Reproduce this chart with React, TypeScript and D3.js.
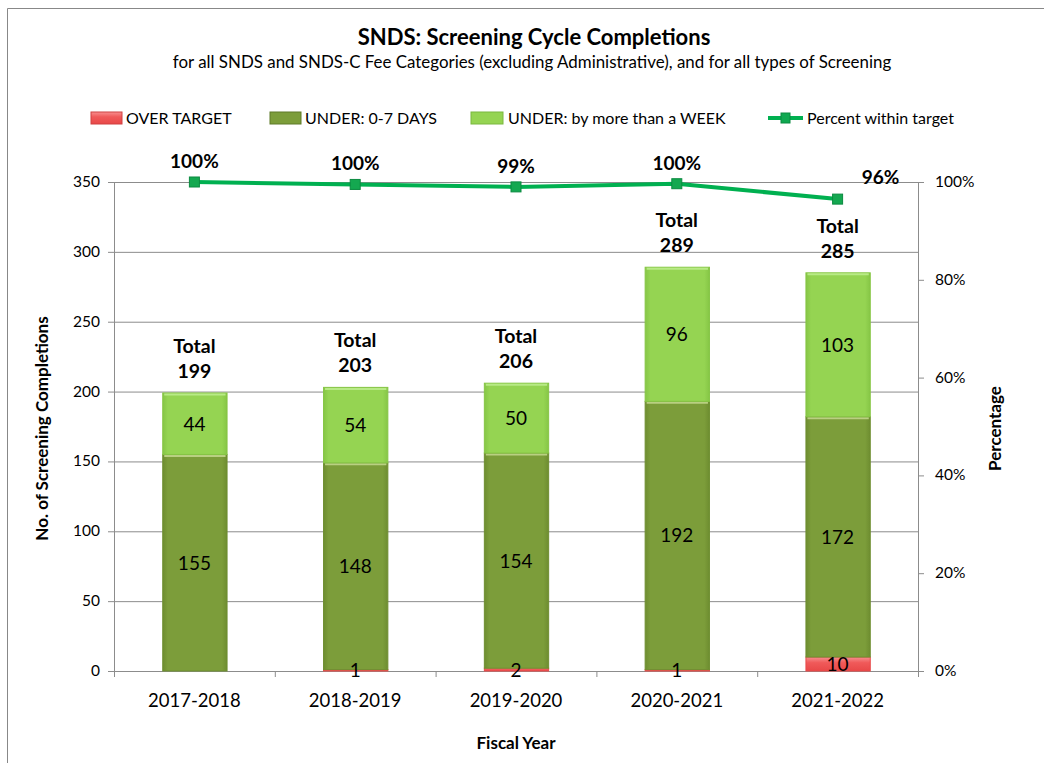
import { scaleBand, scaleLinear, line } from 'd3';

const years = ['2017-2018', '2018-2019', '2019-2020', '2020-2021', '2021-2022'];
const overTarget = [0, 1, 2, 1, 10];
const under07 = [155, 148, 154, 192, 172];
const underWeek = [44, 54, 50, 96, 103];
const totals = [199, 203, 206, 289, 285];
const pctWithin = [100, 99.5, 99.0, 99.65, 96.5];
const pctLabels = ['100%', '100%', '99%', '100%', '96%'];
const leftTicks = [0, 50, 100, 150, 200, 250, 300, 350];
const rightTicks = [0, 20, 40, 60, 80, 100];

const FONT = 'Lato, "Open Sans", sans-serif';

export default function App() {
  const width = 1044;
  const height = 763;
  const left = 114;
  const right = 918;
  const top = 182;
  const bottom = 671;

  const x = scaleBand().domain(years).range([left, right]).paddingInner(0.6).paddingOuter(0.3);
  const band = scaleBand().domain(years).range([left, right]);
  const y = scaleLinear().domain([0, 350]).range([bottom, top]);
  const yPct = scaleLinear().domain([0, 100]).range([bottom, top]);

  const cx = (d) => x(d) + x.bandwidth() / 2;
  const pctLine = line()
    .x((d, i) => cx(years[i]))
    .y((d) => yPct(d));

  const segments = years.map((yr, i) => [
    { key: 'over', v: overTarget[i], y0: 0 },
    { key: 'u07', v: under07[i], y0: overTarget[i] },
    { key: 'week', v: underWeek[i], y0: overTarget[i] + under07[i] },
  ]);

  const fills = { over: 'url(#gRed)', u07: 'url(#gDark)', week: 'url(#gLight)' };
  const strokes = { over: '#e84a4a', u07: '#6f8f31', week: '#86c545' };

  return (
    <svg width={width} height={height} style={{ display: 'block', position: 'absolute', left: 0, top: 0 }}>
      <defs>
        <linearGradient id="gDark" x1="0" x2="1" y1="0" y2="0">
          <stop offset="0" stopColor="#6e8d30" />
          <stop offset="0.08" stopColor="#7c9d3a" />
          <stop offset="0.92" stopColor="#7c9d3a" />
          <stop offset="1" stopColor="#6e8d30" />
        </linearGradient>
        <linearGradient id="gLight" x1="0" x2="1" y1="0" y2="0">
          <stop offset="0" stopColor="#86c646" />
          <stop offset="0.08" stopColor="#95d452" />
          <stop offset="0.92" stopColor="#95d452" />
          <stop offset="1" stopColor="#86c646" />
        </linearGradient>
        <linearGradient id="gRed" x1="0" x2="0" y1="0" y2="1">
          <stop offset="0" stopColor="#f79090" />
          <stop offset="0.4" stopColor="#f05a5a" />
          <stop offset="1" stopColor="#e84848" />
        </linearGradient>
      </defs>
      <rect x={0} y={0} width={width} height={height} fill="#fff" />
      <path d={`M7.5,${height} V8.5 H${width}`} fill="none" stroke="#888" strokeWidth={1} />

      <text x={534} y={45} textAnchor="middle" fontFamily={FONT} fontWeight="bold" fontSize={22}>
        SNDS: Screening Cycle Completions
      </text>
      <text x={532} y={68} textAnchor="middle" fontFamily={FONT} fontSize={16.9}>
        for all SNDS and SNDS-C Fee Categories (excluding Administrative), and for all types of Screening
      </text>

      {/* legend */}
      <g fontFamily={FONT} fontSize={16}>
        <rect x={91} y={112} width={31} height={12} fill="url(#gRed)" stroke="#d04040" />
        <text x={126} y={124}>OVER TARGET</text>
        <rect x={270} y={112} width={31} height={12} fill="#7c9d3a" stroke="#5e7a28" />
        <text x={305} y={124}>UNDER: 0-7 DAYS</text>
        <rect x={471} y={112} width={32} height={12} fill="#95d452" stroke="#7ab83e" />
        <text x={508} y={124}>UNDER: by more than a WEEK</text>
        <line x1={768} x2={803} y1={118} y2={118} stroke="#00b050" strokeWidth={4} />
        <rect x={781} y={113} width={9} height={10} fill="#0fa850" stroke="#0a8a40" />
        <text x={807} y={124}>Percent within target</text>
      </g>

      {/* gridlines */}
      {leftTicks.map((t) => (
        <line key={t} x1={left - 6} x2={right} y1={y(t) + 0.5} y2={y(t) + 0.5} stroke="#8c8c8c" strokeWidth={1} />
      ))}
      <line x1={left + 0.5} x2={left + 0.5} y1={top} y2={bottom} stroke="#8c8c8c" />
      <line x1={right + 0.5} x2={right + 0.5} y1={top} y2={bottom + 6} stroke="#8c8c8c" />
      {rightTicks.map((t) => (
        <line key={t} x1={right} x2={right + 6} y1={yPct(t) + 0.5} y2={yPct(t) + 0.5} stroke="#8c8c8c" />
      ))}
      {years.map((yr) => (
        <line key={yr} x1={band(yr) + 0.5} x2={band(yr) + 0.5} y1={bottom} y2={bottom + 6} stroke="#8c8c8c" />
      ))}

      {/* axis labels */}
      <g fontFamily={FONT} fontSize={15.5}>
        {leftTicks.map((t) => (
          <text key={t} x={left - 14} y={y(t) + 5} textAnchor="end">{t}</text>
        ))}
        {rightTicks.map((t) => (
          <text key={t} x={right + 17} y={yPct(t) + 5}>{t}%</text>
        ))}
      </g>
      <g fontFamily={FONT} fontSize={18.5}>
        {years.map((yr) => (
          <text key={yr} x={band(yr) + band.bandwidth() / 2} y={707} textAnchor="middle">{yr}</text>
        ))}
      </g>
      <text x={516} y={749} textAnchor="middle" fontFamily={FONT} fontWeight="bold" fontSize={17}>Fiscal Year</text>
      <text transform={`translate(48,${(top + bottom) / 2 + 2}) rotate(-90)`} textAnchor="middle" fontFamily={FONT} fontWeight="bold" fontSize={17}>
        No. of Screening Completions
      </text>
      <text transform={`translate(1001,${(top + bottom) / 2 + 2}) rotate(-90)`} textAnchor="middle" fontFamily={FONT} fontWeight="bold" fontSize={17}>
        Percentage
      </text>

      {/* bars */}
      {years.map((yr, i) => (
        <g key={yr}>
          {segments[i].filter((s) => s.v > 0).map((s) => {
            const y1 = y(s.y0 + s.v);
            const h = y(s.y0) - y1;
            return (
              <g key={s.key}>
                <rect x={x(yr) + 0.5} y={y1} width={x.bandwidth()} height={h} fill={fills[s.key]} stroke={strokes[s.key]} strokeWidth={1} />
                {s.key !== 'over' && (
                  <line x1={x(yr) + 2} x2={x(yr) + x.bandwidth() - 1} y1={y1 + 1.5} y2={y1 + 1.5} stroke={s.key === 'u07' ? '#b9cf82' : '#b8ea86'} strokeWidth={2} />
                )}
              </g>
            );
          })}
        </g>
      ))}

      {/* segment labels */}
      <g fontFamily={FONT} fontSize={19} textAnchor="middle">
        {years.map((yr, i) => (
          <g key={yr}>
            {overTarget[i] > 0 && (
              <text x={cx(yr)} y={y(overTarget[i] / 2) + 7}>{overTarget[i]}</text>
            )}
            <text x={cx(yr)} y={y(overTarget[i] + under07[i] / 2) + 7}>{under07[i]}</text>
            <text x={cx(yr)} y={y(overTarget[i] + under07[i] + underWeek[i] / 2) + 7}>{underWeek[i]}</text>
          </g>
        ))}
      </g>

      {/* totals */}
      <g fontFamily={FONT} fontSize={19.5} fontWeight="bold" textAnchor="middle">
        {years.map((yr, i) => (
          <text key={yr} x={cx(yr)} y={y(totals[i]) - 40}>
            <tspan x={cx(yr)}>Total</tspan>
            <tspan x={cx(yr)} dy={25}>{totals[i]}</tspan>
          </text>
        ))}
      </g>

      {/* percent line */}
      <path d={pctLine(pctWithin)} fill="none" stroke="#00b050" strokeWidth={4} strokeLinejoin="round" />
      {pctWithin.map((p, i) => (
        <rect key={i} x={cx(years[i]) - 5} y={yPct(p) - 5} width={10} height={10} fill="#14a850" stroke="#0b8a40" strokeWidth={1} />
      ))}
      <g fontFamily={FONT} fontSize={19} fontWeight="bold" textAnchor="middle">
        {pctWithin.map((p, i) => {
          const last = i === pctWithin.length - 1;
          return (
            <text key={i} x={cx(years[i]) + (last ? 43 : 0)} y={yPct(p) - (last ? 15 : 14)}>
              {pctLabels[i]}
            </text>
          );
        })}
      </g>
    </svg>
  );
}
